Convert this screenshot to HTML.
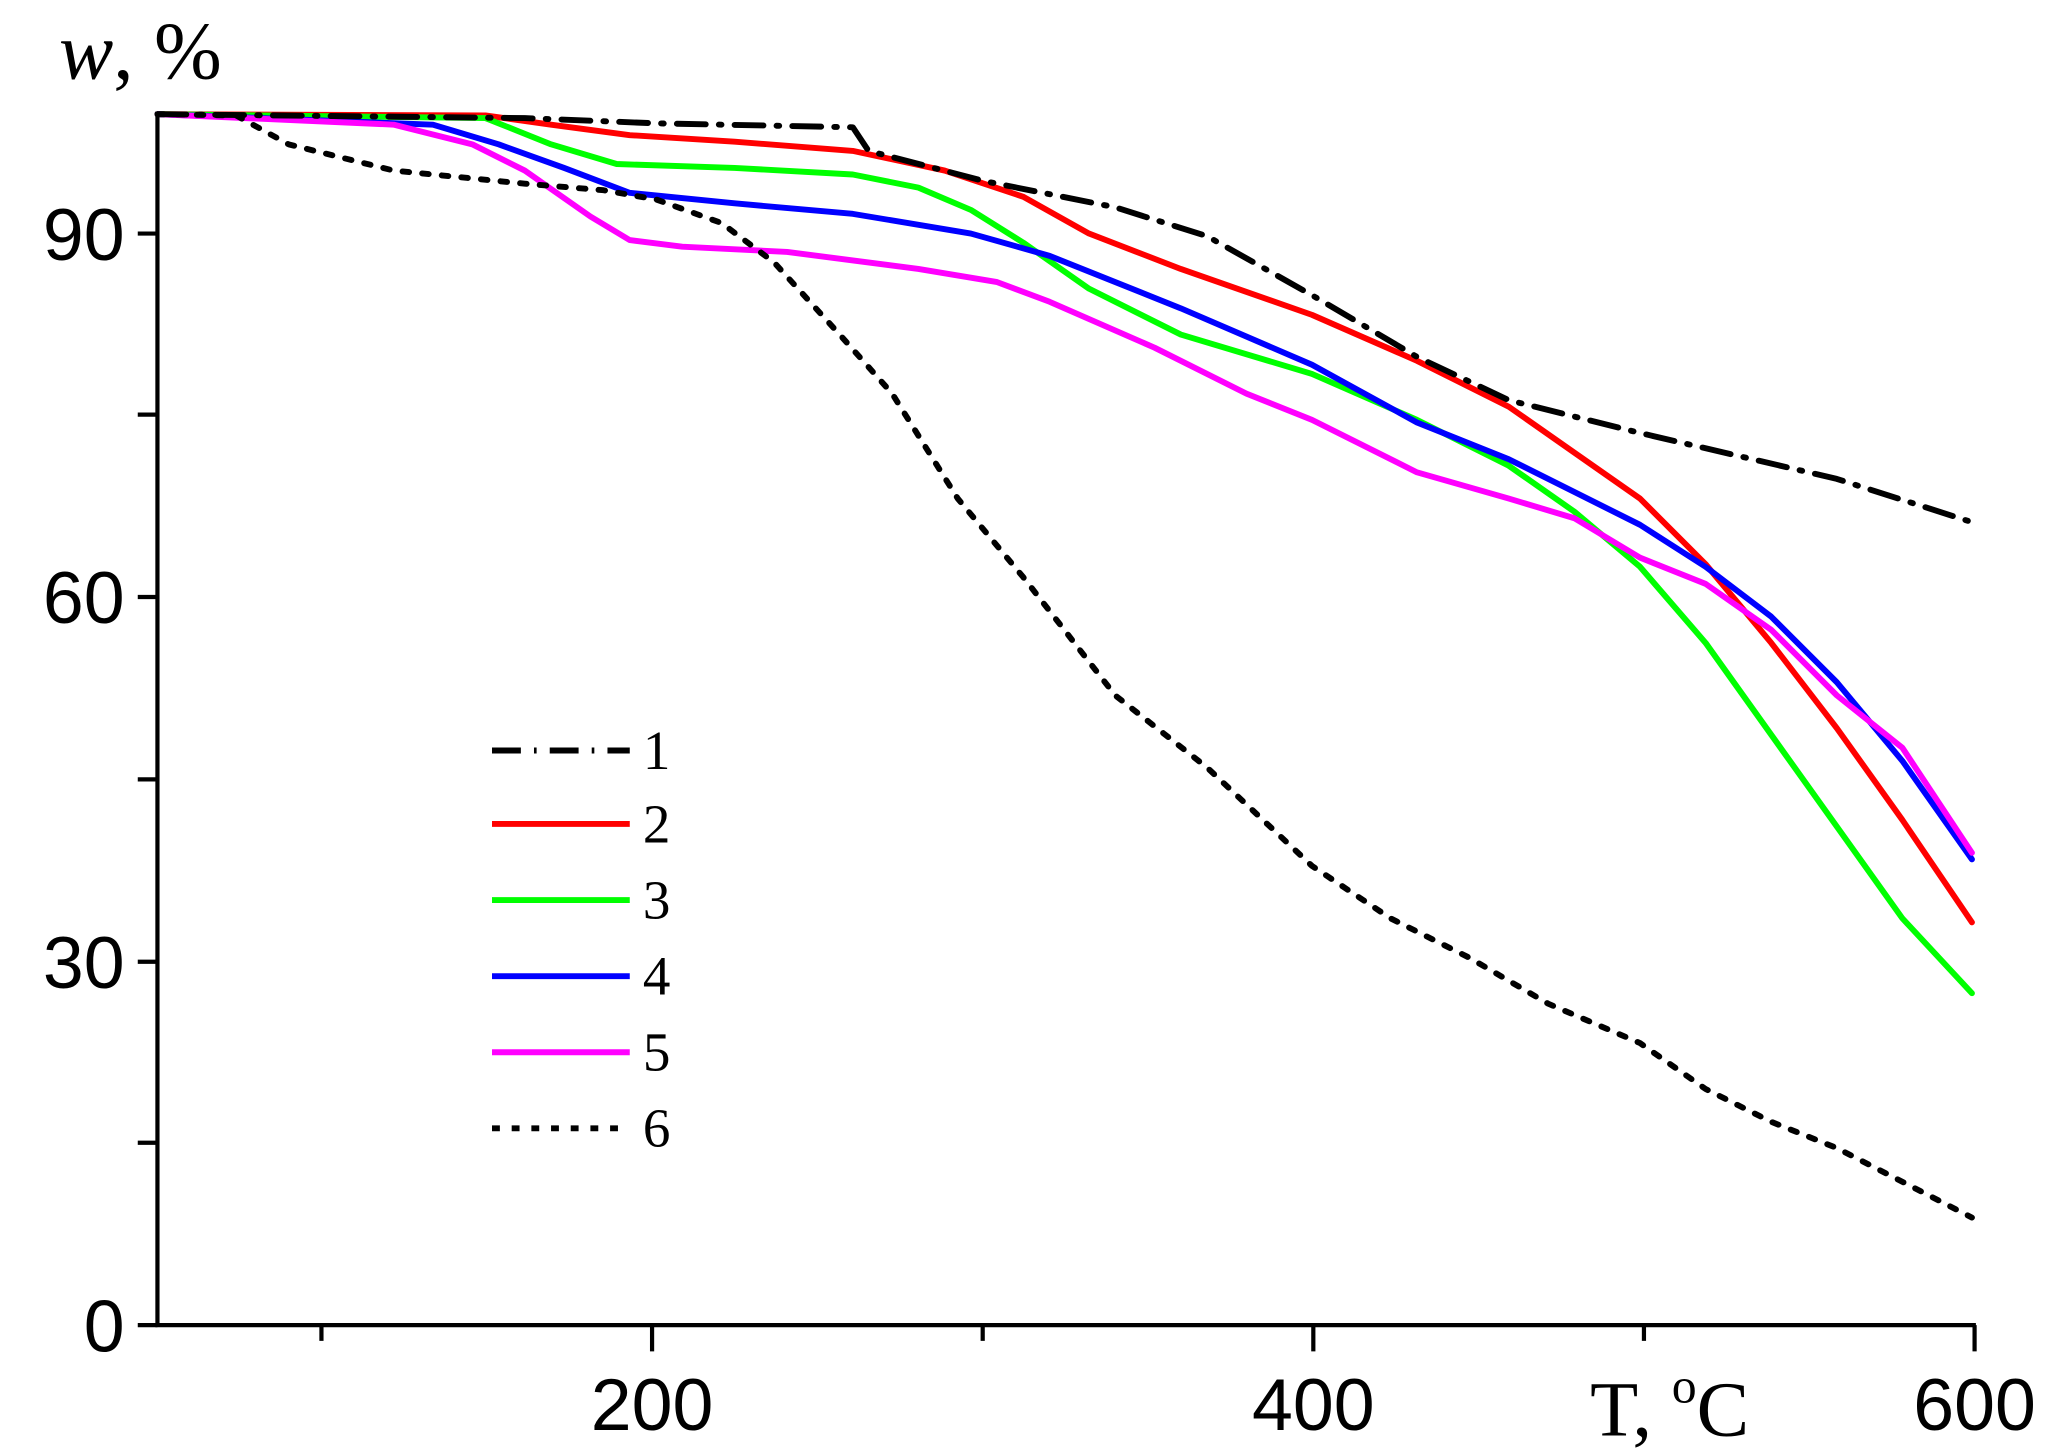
<!DOCTYPE html>
<html><head><style>html,body{margin:0;padding:0;background:#fff}svg{display:block}</style></head>
<body>
<svg width="2047" height="1454" viewBox="0 0 1560.2 1108.2" preserveAspectRatio="none" xmlns="http://www.w3.org/2000/svg">
<rect width="1561" height="1109" fill="#fff"/>
<g fill="none" stroke-linejoin="round" stroke-linecap="round">
<polyline stroke="#ff0000" stroke-width="4.5" points="120,87 370,88 420,95 480,103 560,108 650,115 720,130 780,150 830,178 900,205 1000,240 1080,275 1150,310 1200,345 1250,380 1300,430 1350,490 1400,555 1450,625 1503,703"/>
<polyline stroke="#00ff00" stroke-width="4.5" points="120,87 370,90 420,110 470,125 560,128 650,133 700,143 740,160 780,185 830,220 900,255 1000,285 1080,320 1150,355 1200,390 1250,432 1300,490 1350,560 1400,630 1450,700 1503,757"/>
<polyline stroke="#0000ff" stroke-width="4.5" points="120,87 330,95 380,110 430,128 480,147 560,155 650,163 740,178 800,195 900,235 1000,278 1080,322 1150,350 1200,375 1250,400 1300,432 1350,470 1400,520 1450,580 1503,655"/>
<polyline stroke="#ff00ff" stroke-width="4.5" points="120,87 300,95 360,110 400,130 450,165 480,183 520,188 600,192 700,205 760,215 800,230 880,265 950,300 1000,320 1080,360 1150,380 1200,395 1250,425 1300,445 1350,480 1400,530 1450,570 1503,650"/>
<polyline stroke="#000" stroke-width="4.5" stroke-dasharray="22,10,2,10" points="120,87 400,90 500,94 650,97 662,115 750,138 850,158 920,180 1000,225 1080,272 1150,305 1250,330 1400,365 1500,397"/>
<polyline stroke="#000" stroke-width="4.5" stroke-dasharray="5,10" points="120,87 180,88 220,110 300,130 400,140 460,145 500,152 550,170 590,200 640,255 680,300 730,380 780,440 850,530 920,585 1000,660 1060,700 1120,730 1180,765 1250,795 1300,830 1350,855 1400,875 1503,928"/>
</g>
<g stroke="#000" stroke-width="3.2" fill="none">
<path d="M120,85 V1010 H1506"/>
<path d="M105,178 H120 M105,455 H120 M105,733 H120 M105,1010 H120 M105,871 H120 M105,316 H120 M105,594 H120"/>
<path d="M497,1010 V1030 M1001,1010 V1030 M1505,1010 V1030 M245,1010 V1022 M749,1010 V1022 M1253,1010 V1022"/>
</g>
<g font-family="Liberation Sans, sans-serif" font-size="56" fill="#000" text-anchor="end">
<text x="95" y="198">90</text><text x="95" y="475">60</text><text x="95" y="753">30</text><text x="95" y="1030">0</text>
</g>
<g font-family="Liberation Sans, sans-serif" font-size="56" fill="#000" text-anchor="middle">
<text x="497" y="1090">200</text><text x="1001" y="1090">400</text><text x="1505" y="1090">600</text>
</g>
<text x="1212" y="1094" font-family="Liberation Serif, serif" font-size="60">T, <tspan font-size="38" dy="-25">o</tspan><tspan dy="25">C</tspan></text>
<text x="45" y="60" font-family="Liberation Serif, serif" font-size="62"><tspan font-style="italic">w</tspan>, %</text>
<g fill="none" stroke-width="4.5">
<path d="M375,572 H480" stroke="#000" stroke-dasharray="22,10,2,10"/>
<path d="M375,628 H480" stroke="#f00"/>
<path d="M375,686 H480" stroke="#0f0"/>
<path d="M375,744 H480" stroke="#00f"/>
<path d="M375,802 H480" stroke="#f0f"/>
<path d="M375,860 H480" stroke="#000" stroke-dasharray="6,9"/>
</g>
<g font-family="Liberation Serif, serif" font-size="42" fill="#000">
<text x="490" y="586">1</text><text x="490" y="642">2</text><text x="490" y="700">3</text><text x="490" y="758">4</text><text x="490" y="816">5</text><text x="490" y="874">6</text>
</g>
</svg>
</body></html>
